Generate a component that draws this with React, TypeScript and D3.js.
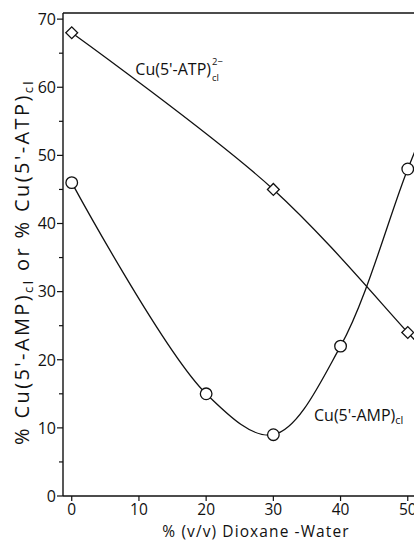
import React from "react";
import * as d3 from "d3";

// values
const dioxane = [0, 20, 30, 40, 50];
const ampValues = [46, 15, 9, 22, 48];
const atpX = [0, 30, 50];
const atpValues = [68, 45, 24];
// where the drawn curves run on past the right edge
const ampTail = { x: 55, v: 60 };
const atpTail = { x: 55, v: 18.5 };

const xTicks = [0, 10, 20, 30, 40, 50];
const yTicks = [0, 10, 20, 30, 40, 50, 60, 70];
const yMinor = [5, 15, 25, 35, 45, 55, 65];

const W = 414;
const H = 541;
const FONT = "'Open Sans', 'DejaVu Sans', sans-serif";

export default function App() {
  const x = d3.scaleLinear().domain([-1.3, 51.3]).range([63, 416.5]);
  const y = d3.scaleLinear().domain([0, 70.9]).range([496, 13]);

  const amp = dioxane.map((d, i) => ({ x: d, v: ampValues[i] }));
  const atp = atpX.map((d, i) => ({ x: d, v: atpValues[i] }));

  const line = d3
    .line<{ x: number; v: number }>()
    .x((d) => x(d.x))
    .y((d) => y(d.v))
    .curve(d3.curveCatmullRom.alpha(0.5));

  const x0 = x.range()[0];
  const yBottom = y.range()[0];
  const yTop = y.range()[1];

  const diamond = d3.symbol().type(d3.symbolSquare).size(70)();

  return (
    <svg
      width={W}
      height={H}
      style={{ position: "absolute", left: 0, top: 0, background: "#fff" }}
      fontFamily={FONT}
    >
      {/* frame */}
      <line x1={x0} x2={W} y1={yTop} y2={yTop} stroke="#111" strokeWidth={1.4} />
      <line x1={x0} x2={x0} y1={yTop} y2={yBottom} stroke="#111" strokeWidth={1.4} />
      <line x1={x0} x2={W} y1={yBottom} y2={yBottom} stroke="#111" strokeWidth={1.4} />

      {/* y ticks */}
      {yTicks.map((t) => (
        <g key={"y" + t}>
          <line x1={x0 - 6} x2={x0} y1={y(t)} y2={y(t)} stroke="#111" strokeWidth={1.2} />
          <text x={x0 - 7} y={y(t)} dy="0.36em" textAnchor="end" fontSize={16} fill="#111">
            {t}
          </text>
        </g>
      ))}
      {yMinor.map((t) => (
        <line key={"m" + t} x1={x0 - 4} x2={x0} y1={y(t)} y2={y(t)} stroke="#111" strokeWidth={1.2} />
      ))}

      {/* x ticks */}
      {xTicks.map((t) => (
        <g key={"x" + t}>
          <line x1={x(t)} x2={x(t)} y1={yBottom} y2={yBottom + 5} stroke="#111" strokeWidth={1.2} />
          <text x={x(t)} y={515} textAnchor="middle" fontSize={15.5} fill="#111">
            {t}
          </text>
        </g>
      ))}

      {/* axis titles */}
      <text x={256} y={536.5} textAnchor="middle" fontSize={15.5} letterSpacing={1.1} fill="#111">
        % (v/v) Dioxane -Water
      </text>
      <text
        transform="translate(29,262) rotate(-90)"
        textAnchor="middle"
        fontSize={20}
        letterSpacing={2.4}
        fill="#111"
      >
        % Cu(5'-AMP)
        <tspan fontSize={13} dy={4}>cl</tspan>
        <tspan dy={-4}>{" or % Cu(5'-ATP)"}</tspan>
        <tspan fontSize={13} dy={4}>cl</tspan>
      </text>

      {/* curves */}
      <path d={line([...atp, atpTail]) || ""} fill="none" stroke="#111" strokeWidth={1.3} />
      <path d={line([...amp, ampTail]) || ""} fill="none" stroke="#111" strokeWidth={1.3} />

      {/* markers */}
      {atp.map((d) => (
        <path
          key={"a" + d.x}
          d={diamond || ""}
          transform={`translate(${x(d.x)},${y(d.v)}) rotate(45)`}
          fill="#fff"
          stroke="#111"
          strokeWidth={1.3}
        />
      ))}
      {amp.map((d) => (
        <circle key={"c" + d.x} cx={x(d.x)} cy={y(d.v)} r={5.8} fill="#fff" stroke="#111" strokeWidth={1.3} />
      ))}

      {/* curve labels */}
      <text x={211} y={75} textAnchor="end" fontSize={16} fill="#111">
        Cu(5'-ATP)
      </text>
      <text x={212} y={65} fontSize={9.5} fill="#111">
        2−
      </text>
      <text x={212} y={81} fontSize={9.5} fill="#111">
        cl
      </text>
      <text x={314} y={421} fontSize={16} fill="#111">
        Cu(5'-AMP)
        <tspan fontSize={11} dy={3}>cl</tspan>
      </text>
    </svg>
  );
}
